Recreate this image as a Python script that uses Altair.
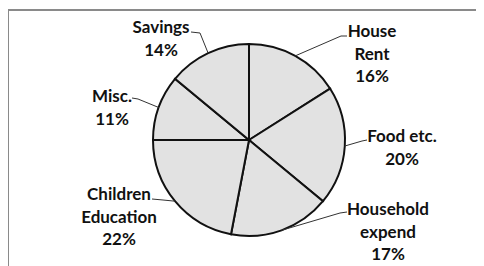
import math
import altair as alt
import pandas as pd

# ---- data ----
categories = ["House Rent", "Food etc.", "Household expend", "Children Education", "Misc.", "Savings"]
label_text = ["House\nRent\n16%", "Food etc.\n20%", "Household\nexpend\n17%",
              "Children\nEducation\n22%", "Misc.\n11%", "Savings\n14%"]
percent = [16, 20, 17, 22, 11, 14]

# ---- layout (pixels in the plot area) ----
W, H = 468, 256
CX, CY, R = 241, 130, 96
# position of the first line of each label
label_xy = [(364, 22), (394, 127), (380, 200), (111, 185), (104, 87), (153, 18)]
# leader-line points near the label (knee, end)
leader_pts = [
    [(333, 26), (339, 26)],
    [(354, 131), (359, 130)],
    [(332, 203), (339, 202)],
    [(155, 190), (144, 189)],
    [(130, 89), (124, 88)],
    [(192, 23), (183, 22)],
]

pie = pd.DataFrame({"category": categories, "percent": percent, "order": range(len(categories))})

# leader lines: start on the rim at the slice's mid-angle
rows = []
cum = 0
for i, p in enumerate(percent):
    mid = (cum + p / 2) / 100 * 2 * math.pi
    cum += p
    pts = [(CX + R * math.sin(mid), CY - R * math.cos(mid))] + leader_pts[i]
    for k, (x, y) in enumerate(pts):
        rows.append({"category": categories[i], "k": k, "x": x, "y": y})
lines = pd.DataFrame(rows)

labels = pd.DataFrame({
    "text": label_text,
    "x": [p[0] for p in label_xy],
    "y": [p[1] for p in label_xy],
})

frame = pd.DataFrame({"x": [0, 0], "y": [0, 0], "x2": [W, 0], "y2": [0, H]})

xs = alt.Scale(domain=[0, W], nice=False, zero=False)
ys = alt.Scale(domain=[H, 0], nice=False, zero=False)

border = alt.Chart(frame).mark_rule(color="#8a8a8a", strokeWidth=2).encode(
    x=alt.X("x:Q", scale=xs, axis=None),
    y=alt.Y("y:Q", scale=ys, axis=None),
    x2="x2:Q",
    y2="y2:Q",
)

arcs = alt.Chart(pie).mark_arc(
    outerRadius=R, fill="#e2e2e2", stroke="#111111", strokeWidth=2
).encode(
    theta=alt.Theta("percent:Q", stack=True),
    order=alt.Order("order:Q"),
    x=alt.value(CX),
    y=alt.value(CY),
)

leaders = alt.Chart(lines).mark_line(color="#333333", strokeWidth=1).encode(
    x=alt.X("x:Q", scale=xs, axis=None),
    y=alt.Y("y:Q", scale=ys, axis=None),
    detail="category:N",
    order="k:Q",
)

texts = alt.Chart(labels).mark_text(
    font="Lato", fontWeight="bold", fontSize=17, color="#111111",
    lineBreak="\n", lineHeight=22.5, align="center", baseline="middle",
).encode(
    x=alt.X("x:Q", scale=xs, axis=None),
    y=alt.Y("y:Q", scale=ys, axis=None),
    text="text:N",
)

chart = alt.layer(border, arcs, leaders, texts).properties(
    width=W, height=H,
    autosize=alt.AutoSizeParams(type="none"),
    padding={"left": 0, "top": 2, "right": 0, "bottom": 0},
).configure_view(stroke=None)

chart.save("out.html", embed_options={"renderer": "svg", "actions": False})
